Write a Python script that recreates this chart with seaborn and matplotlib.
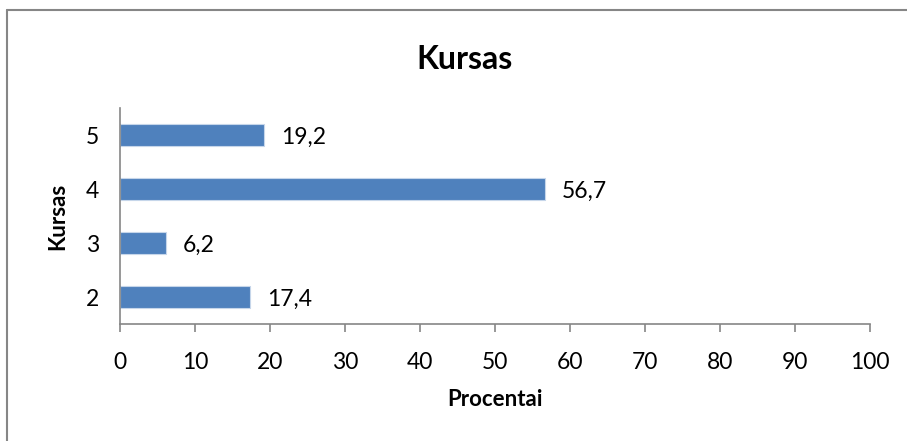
import numpy as np
import pandas as pd
import matplotlib.pyplot as plt
import seaborn as sns
from matplotlib.lines import Line2D

kursas = ['5', '4', '3', '2']
procentai = [19.2, 56.7, 6.2, 17.4]
xticks = [0, 10, 20, 30, 40, 50, 60, 70, 80, 90, 100]

sns.set_theme(style='white', rc={'text.color': 'black', 'xtick.color': 'black',
                                 'ytick.color': 'black', 'axes.labelcolor': 'black'})
plt.rcParams['font.family'] = ['Lato', 'DejaVu Sans']

df = pd.DataFrame({'Kursas': kursas, 'Procentai': procentai})

fig = plt.figure(figsize=(9.07, 4.41), dpi=100)
ax = fig.add_axes([0.1323, 0.2653, 0.8269, 0.4898])

sns.barplot(data=df, x='Procentai', y='Kursas', order=kursas, orient='h',
            color='#4F81BD', saturation=1, width=0.4,
            edgecolor='#C6D6EA', linewidth=0.8, ax=ax)

# value labels, comma decimals
for i, v in enumerate(procentai):
    ax.annotate(f'{v:.1f}'.replace('.', ','), xy=(v, i), xytext=(12, -2),
                textcoords='offset points', va='center', ha='left', fontsize=16.5)

ax.set_xlim(0, 100)
ax.set_ylim(3.5, -0.5)
ax.set_xticks(xticks)
ax.set_xticklabels([str(t) for t in xticks], fontsize=16.5)
ax.tick_params(axis='x', length=6, width=1.2, color='#868686', labelcolor='black',
               pad=14, bottom=True)
ax.tick_params(axis='y', length=0, pad=15, labelsize=16.5, labelcolor='black')

for s in ['top', 'right']:
    ax.spines[s].set_visible(False)
for s in ['left', 'bottom']:
    ax.spines[s].set_color('#868686')
    ax.spines[s].set_linewidth(1.2)

ax.set_xlabel('Procentai', fontsize=16, fontweight='bold', labelpad=12)
ax.set_ylabel('Kursas', fontsize=16, fontweight='bold', labelpad=13)

fig.text(0.512, 0.866, 'Kursas', ha='center', va='center', fontsize=23, fontweight='bold')

# chart frame (only top and left edges visible in the crop)
fig.add_artist(Line2D([0.008, 0.008], [0, 0.977], color='#868686', lw=1.5))
fig.add_artist(Line2D([0.008, 1.0], [0.977, 0.977], color='#868686', lw=1.5))

fig.savefig('out.png', dpi=100)
